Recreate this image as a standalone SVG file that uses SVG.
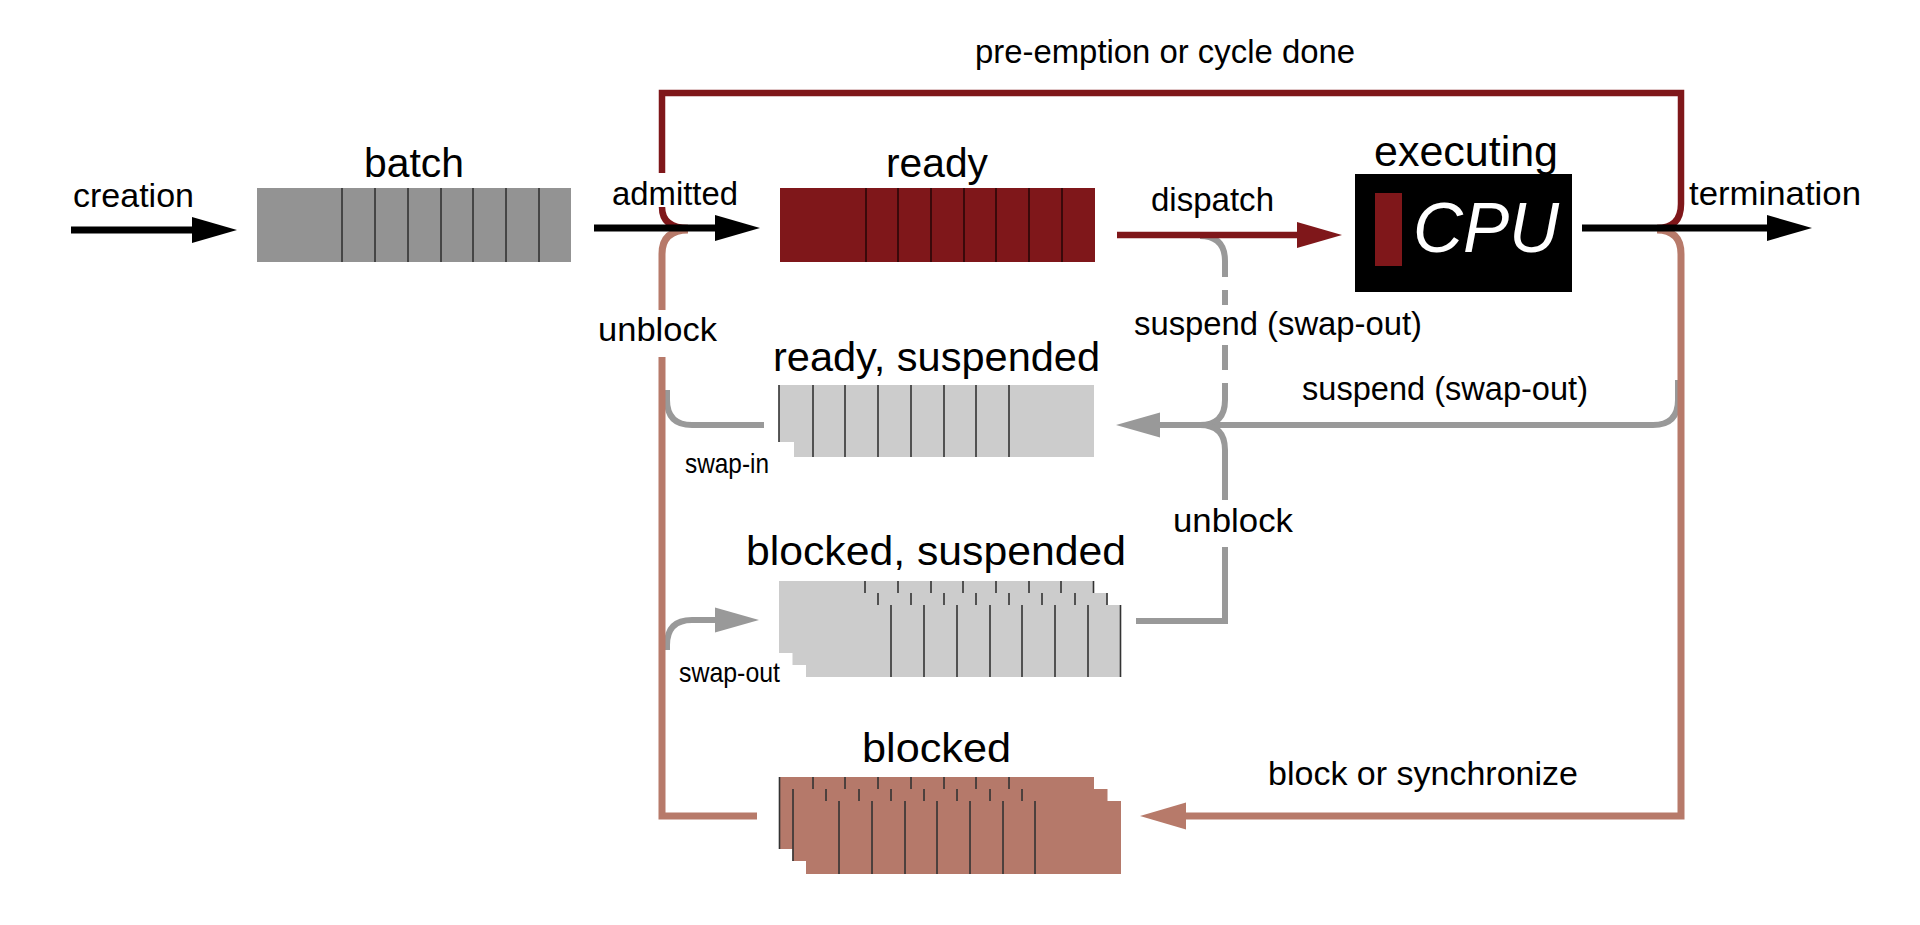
<svg xmlns="http://www.w3.org/2000/svg" width="1920" height="925" viewBox="0 0 1920 925">
<defs>
<style>
text{font-family:"Liberation Sans",Arial,sans-serif;fill:#000}
.lbl{font-size:33px}
.ttl{font-size:41px}
.sm{font-size:28px}
.blk{fill:none;stroke:#000;stroke-width:7}
.red{fill:none;stroke:#7f171a;stroke-width:6.5}
.sal{fill:none;stroke:#b77a6a;stroke-width:7}
.gry{fill:none;stroke:#999;stroke-width:6}
.div{stroke:#333;stroke-width:1.6}
.divr{stroke:#2a0707;stroke-width:1.6}
.fgray{fill:#939393}
.fred{fill:#7f171a}
.flight{fill:#cccccc}
.fsal{fill:#b5796a}
</style>
<marker id="ahBlack" markerUnits="userSpaceOnUse" markerWidth="46" markerHeight="28" refX="30" refY="13" orient="auto" overflow="visible"><path d="M0,0 L45,13 L0,26 z" fill="#000"/></marker>
<marker id="ahRed" markerUnits="userSpaceOnUse" markerWidth="46" markerHeight="28" refX="30" refY="13" orient="auto" overflow="visible"><path d="M0,0 L45,13 L0,26 z" fill="#7f171a"/></marker>
<marker id="ahGray" markerUnits="userSpaceOnUse" markerWidth="46" markerHeight="28" refX="29" refY="12.5" orient="auto" overflow="visible"><path d="M0,0 L44,12.5 L0,25 z" fill="#999"/></marker>
<marker id="ahSal" markerUnits="userSpaceOnUse" markerWidth="48" markerHeight="28" refX="31" refY="13.5" orient="auto" overflow="visible"><path d="M0,0 L46,13.5 L0,27 z" fill="#b77a6a"/></marker>
</defs>
<rect width="1920" height="925" fill="#fff"/>

<g id="connectors">
  <!-- gray suspend paths -->
  <path class="gry" d="M1200,236 Q1225,236 1225,261 V277"/>
  <path class="gry" d="M1225,290 V305"/>
  <path class="gry" d="M1225,345 V370"/>
  <path class="gry" d="M1225,383 V400 Q1225,425 1200,425"/>
  <path class="gry" d="M1678,380 V400 Q1678,425 1653,425 H1131" marker-end="url(#ahGray)"/>
  <!-- unblock from blocked, suspended -->
  <path class="gry" d="M1136,621 H1225 V547" stroke-linejoin="miter"/>
  <path class="gry" d="M1225,500 V450 Q1225,425 1200,425"/>
  <!-- swap-in -->
  <path class="gry" d="M764,425 H692 Q667,425 667,400 V390"/>
  <!-- swap-out -->
  <path class="gry" d="M667,650 V645 Q667,620 692,620 H744" marker-end="url(#ahGray)"/>
  <!-- pre-emption loop -->
  <path class="red" d="M1657,228 Q1681,228 1681,204 V93 H662 V173" stroke-linejoin="miter"/>
  <path class="red" d="M662,207 Q662,228 688,228"/>
  <!-- block / unblock loop -->
  <path class="sal" d="M1657,230 Q1681,230 1681,254 V816 H1155" stroke-linejoin="miter" marker-end="url(#ahSal)"/>
  <path class="sal" d="M757,816 H662 V357" stroke-linejoin="miter"/>
  <path class="sal" d="M662,310 V254 Q662,230 688,230"/>
  <!-- dispatch -->
  <path class="red" d="M1117,235 H1327" stroke-width="7" marker-end="url(#ahRed)"/>
  <!-- black arrows -->
  <path class="blk" d="M71,230 H222" marker-end="url(#ahBlack)"/>
  <path class="blk" d="M594,228 H745" marker-end="url(#ahBlack)"/>
  <path class="blk" d="M1582,228 H1797" marker-end="url(#ahBlack)"/>
</g>

<g id="connector-labels">
  <text class="lbl" x="975" y="63" textLength="380" lengthAdjust="spacingAndGlyphs">pre-emption or cycle done</text>
  <text class="lbl" x="73" y="207" textLength="121" lengthAdjust="spacingAndGlyphs">creation</text>
  <text class="lbl" x="612" y="205" textLength="126" lengthAdjust="spacingAndGlyphs">admitted</text>
  <text class="lbl" x="1151" y="211" textLength="123" lengthAdjust="spacingAndGlyphs">dispatch</text>
  <text class="lbl" x="1689" y="205" textLength="172" lengthAdjust="spacingAndGlyphs">termination</text>
  <text class="lbl" x="598" y="341" textLength="119" lengthAdjust="spacingAndGlyphs">unblock</text>
  <text class="lbl" x="1134" y="335" textLength="288" lengthAdjust="spacingAndGlyphs">suspend (swap-out)</text>
  <text class="lbl" x="1302" y="400" textLength="286" lengthAdjust="spacingAndGlyphs">suspend (swap-out)</text>
  <text class="sm" x="685" y="473" textLength="84" lengthAdjust="spacingAndGlyphs">swap-in</text>
  <text class="lbl" x="1173" y="532" textLength="120" lengthAdjust="spacingAndGlyphs">unblock</text>
  <text class="sm" x="679" y="682" textLength="101" lengthAdjust="spacingAndGlyphs">swap-out</text>
  <text class="lbl" x="1268" y="785" textLength="310" lengthAdjust="spacingAndGlyphs">block or synchronize</text>
</g>

<g id="batch">
  <rect class="fgray" x="257" y="188" width="314" height="74"/>
  <path class="div" d="M342,188V262M375,188V262M408,188V262M441,188V262M473,188V262M506,188V262M539,188V262"/>
  <text class="ttl" x="364" y="177" textLength="100" lengthAdjust="spacingAndGlyphs">batch</text>
</g>

<g id="ready">
  <rect class="fred" x="780" y="188" width="315" height="74"/>
  <path class="divr" d="M866,188V262M898,188V262M931,188V262M964,188V262M996,188V262M1029,188V262M1062,188V262"/>
  <text class="ttl" x="886" y="177" textLength="102" lengthAdjust="spacingAndGlyphs">ready</text>
</g>

<g id="executing">
  <rect x="1355" y="174" width="217" height="118" fill="#000"/>
  <rect class="fred" x="1375" y="193" width="27" height="73"/>
  <text x="1413" y="252" font-size="70" font-style="italic" style="fill:#fff" textLength="146" lengthAdjust="spacingAndGlyphs">CPU</text>
  <text x="1374" y="166" font-size="43" textLength="184" lengthAdjust="spacingAndGlyphs">executing</text>
</g>

<g id="ready-suspended">
  <path class="flight" d="M779,385 H1094 V457 H794 V442 H779 z"/>
  <path class="div" d="M779,385V442M813,385V457M845,385V457M878,385V457M911,385V457M944,385V457M976,385V457M1009,385V457"/>
  <text class="ttl" x="773" y="371" textLength="327" lengthAdjust="spacingAndGlyphs">ready, suspended</text>
</g>

<g id="blocked-suspended">
  <rect class="flight" x="779" y="581" width="315" height="72"/>
  <path class="div" d="M865,581V593M898,581V593M931,581V593M963,581V593M996,581V593M1029,581V593M1061,581V593M1093.5,581V593"/>
  <rect class="flight" x="792.5" y="593" width="315" height="72"/>
  <path class="div" d="M878,593V605M911,593V605M944,593V605M976,593V605M1009,593V605M1042,593V605M1075,593V605M1107,593V605"/>
  <rect class="flight" x="806" y="605" width="315" height="72"/>
  <path class="div" d="M891,605V677M924,605V677M957,605V677M990,605V677M1022,605V677M1055,605V677M1088,605V677M1120.5,605V677"/>
  <text class="ttl" x="746" y="565" font-size="42" textLength="380" lengthAdjust="spacingAndGlyphs">blocked, suspended</text>
</g>

<g id="blocked">
  <rect class="fsal" x="779" y="777" width="315" height="72"/>
  <path class="div" d="M779.5,777V849M813,777V789M845,777V789M878,777V789M911,777V789M944,777V789M976,777V789M1009,777V789"/>
  <rect class="fsal" x="792.5" y="789" width="315" height="72"/>
  <path class="div" d="M793,789V861M826,789V801M859,789V801M891,789V801M924,789V801M957,789V801M990,789V801M1022,789V801"/>
  <rect class="fsal" x="806" y="801" width="315" height="73"/>
  <path class="div" d="M839,801V874M872,801V874M905,801V874M937,801V874M970,801V874M1003,801V874M1035,801V874"/>
  <text class="ttl" x="862" y="762" font-size="42" textLength="149" lengthAdjust="spacingAndGlyphs">blocked</text>
</g>
</svg>
